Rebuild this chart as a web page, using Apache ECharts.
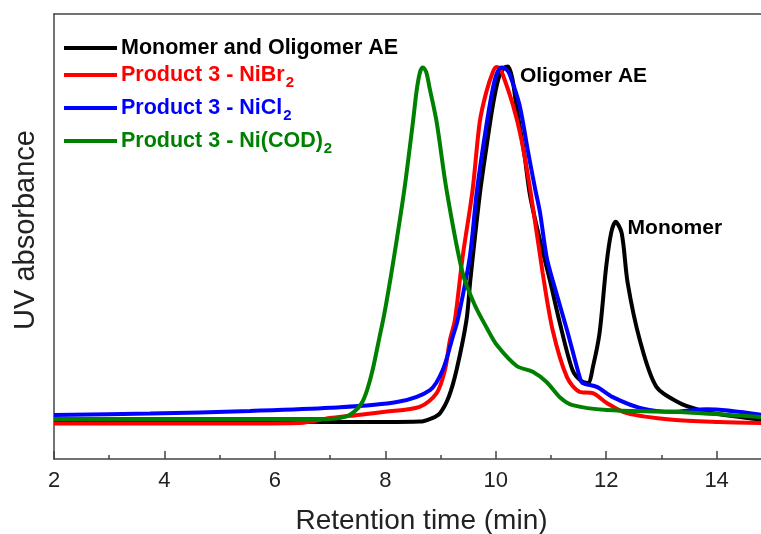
<!DOCTYPE html>
<html>
<head>
<meta charset="utf-8">
<script src="https://cdn.jsdelivr.net/npm/echarts@6/dist/echarts.min.js"></script>
<style>
html,body{margin:0;padding:0;background:#fff;}
#chart{width:761px;height:534px;}
</style>
</head>
<body>
<div id="chart"></div>
<script>
// ---------- data (retention time in min, UV absorbance in arbitrary units) ----------
const seriesNames = ['Monomer and Oligomer AE', 'Product 3 - NiBr2', 'Product 3 - NiCl2', 'Product 3 - Ni(COD)2'];
const legendMain = ['Monomer and Oligomer AE', 'Product 3 - NiBr', 'Product 3 - NiCl', 'Product 3 - Ni(COD)'];
const legendSub = ['', '2', '2', '2'];
const seriesColors = ['#000000', '#ff0000', '#0000ff', '#008000'];
const xTickLabels = [2, 4, 6, 8, 10, 12, 14];

const monomerOligomerAE = [[2,8.3],[4,8.3],[6,8.3],[8,8.3],[8.62,8.4],[8.85,9.2],[8.99,10.3],[9.15,14],[9.29,20.0],[9.47,31.2],[9.54,40.2],[9.71,59.3],[9.83,69.9],[9.95,79.6],[10.05,85.5],[10.14,87.8],[10.22,88.2],[10.3,85.5],[10.37,79.6],[10.52,68.3],[10.62,59.3],[10.8,49.2],[10.98,40.2],[11.16,30.6],[11.39,20.0],[11.55,17.5],[11.67,17.1],[11.76,20.7],[11.88,28.3],[12.0,43.2],[12.09,50.8],[12.17,53.3],[12.28,50.8],[12.39,39.5],[12.61,26.7],[12.91,16.2],[13.33,12.6],[13.69,11.0],[13.93,10.3],[14.84,8.8]];
const productNiBr2 = [[2,8.0],[4,8.0],[5.5,8.0],[6.45,8.1],[7.0,9.2],[7.36,9.7],[8.0,10.6],[8.62,11.7],[8.93,14.8],[9.08,20.0],[9.17,26.7],[9.26,31.2],[9.4,45.4],[9.58,60.4],[9.71,75.7],[9.83,82.5],[9.95,87.0],[10.01,88.1],[10.07,87.8],[10.13,86.3],[10.31,79.6],[10.46,72.1],[10.62,60.9],[10.85,41.8],[11.03,29.0],[11.29,18.4],[11.52,15.1],[11.76,14.8],[12.01,12.6],[12.37,10.3],[13.2,8.8],[14.05,8.3],[14.84,8.1]];
const productNiCl2 = [[2,9.9],[3.74,10.2],[5.55,10.8],[7.0,11.5],[8.21,12.8],[8.81,15.5],[9.04,20.0],[9.22,27.4],[9.31,31.2],[9.53,45.4],[9.66,60.4],[9.84,75.7],[9.96,84.0],[10.04,87.2],[10.11,88.0],[10.19,87.6],[10.25,86.5],[10.43,79.6],[10.58,69.4],[10.71,60.9],[10.8,55.5],[10.92,45.5],[11.03,40.2],[11.29,29.0],[11.52,18.4],[11.57,17.1],[11.83,16.2],[12.12,13.9],[12.61,11.5],[13.2,10.6],[13.82,11.2],[14.84,9.9]];
const productNiCOD2 = [[2,9.0],[5,9.0],[7.0,9.0],[7.3,9.6],[7.45,10.8],[7.57,12.5],[7.67,15.5],[7.77,20.0],[7.88,26.5],[7.98,32.5],[8.1,41.0],[8.21,49.5],[8.35,61.0],[8.5,75.7],[8.57,83.0],[8.63,87.0],[8.68,88.0],[8.74,87.0],[8.8,83.5],[8.93,75.7],[9.11,60.4],[9.4,41.8],[9.62,34.6],[9.84,29.4],[10.02,25.6],[10.38,20.9],[10.67,19.6],[10.92,17.3],[11.16,13.9],[11.39,12.1],[12.01,11.0],[13.2,10.6],[14.84,9.4]];
const seriesData = [monomerOligomerAE, productNiBr2, productNiCl2, productNiCOD2];

const peakNotes = [
  {name: 'Oligomer AE', coord: [10.22, 88.2]},
  {name: 'Monomer', coord: [12.17, 53.3]}
];

// ---------- chart ----------
const FONT = '"Liberation Sans", Arial, Helvetica, sans-serif';
const chart = echarts.init(document.getElementById('chart'), null, {renderer: 'canvas'});

const ctx = document.createElement('canvas').getContext('2d');
function textWidth(t, font) { ctx.font = font; return ctx.measureText(t).width; }

const legendRowsY = [48, 75, 108, 141];
const legendFont = 'bold 21.5px ' + FONT;
const legendGraphics = [];
legendMain.forEach((t, i) => {
  const y = legendRowsY[i];
  legendGraphics.push({type: 'rect', left: 64, top: y - 2, shape: {width: 53, height: 4}, style: {fill: seriesColors[i]}, silent: true});
  legendGraphics.push({type: 'text', x: 121, y: y, style: {text: t, fill: seriesColors[i], font: legendFont, textVerticalAlign: 'middle'}, silent: true});
  if (legendSub[i]) {
    const w = textWidth(t, legendFont);
    legendGraphics.push({type: 'text', x: 121 + w + 1, y: y + 8, style: {text: legendSub[i], fill: seriesColors[i], font: 'bold 15px ' + FONT, textVerticalAlign: 'middle'}, silent: true});
  }
});

const axisLineStyle = {color: '#444', width: 1.5};

const series = seriesData.map((d, i) => ({
  name: seriesNames[i],
  type: 'line',
  data: d,
  xAxisIndex: 0,
  yAxisIndex: 0,
  showSymbol: false,
  smooth: 0.3,
  lineStyle: {color: seriesColors[i], width: 4},
  itemStyle: {color: seriesColors[i]},
  z: 2 + i
}));
series[0].markPoint = {
  symbol: 'circle',
  symbolSize: 0,
  silent: true,
  label: {show: true, position: 'right', distance: 12, color: '#000', fontSize: 21, fontWeight: 'bold', fontFamily: FONT, formatter: p => p.name},
  data: peakNotes.map((n, k) => ({name: n.name, coord: n.coord, label: {offset: k === 0 ? [0, 10] : [0, 6]}}))
};

chart.setOption({
  animation: false,
  backgroundColor: '#fff',
  textStyle: {fontFamily: FONT},
  grid: {left: 54, right: -2, top: 14, bottom: 75, containLabel: false, outerBoundsMode: 'none'},
  xAxis: [
    {
      type: 'value', min: 2, max: 14.84, interval: 2, position: 'bottom',
      axisLine: {show: true, lineStyle: axisLineStyle},
      axisTick: {show: true, inside: true, length: 8, lineStyle: axisLineStyle},
      axisLabel: {show: true, fontSize: 22, color: '#222', margin: 11, fontFamily: FONT, showMaxLabel: false,
        formatter: v => (xTickLabels.indexOf(v) >= 0 ? String(v) : '')},
      splitLine: {show: false},
      name: 'Retention time (min)', nameLocation: 'middle', nameGap: 48,
      nameTextStyle: {fontSize: 28, color: '#222', fontFamily: FONT, padding: [0, 0, 0, 26]}
    },
    {
      type: 'value', min: 2, max: 14.84, interval: 1, position: 'bottom',
      axisLine: {show: false},
      axisTick: {show: true, inside: true, length: 4, lineStyle: axisLineStyle},
      axisLabel: {show: false}, splitLine: {show: false}
    },
    {
      type: 'value', min: 2, max: 14.84, position: 'top',
      axisLine: {show: true, lineStyle: axisLineStyle},
      axisTick: {show: false}, axisLabel: {show: false}, splitLine: {show: false}
    }
  ],
  yAxis: {
    type: 'value', min: 0, max: 100,
    axisLine: {show: true, lineStyle: axisLineStyle},
    axisTick: {show: false}, axisLabel: {show: false}, splitLine: {show: false},
    name: 'UV absorbance', nameLocation: 'middle', nameGap: 14,
    nameTextStyle: {fontSize: 29, color: '#222', fontFamily: FONT, padding: [0, 0, 0, 13]}
  },
  graphic: legendGraphics,
  series: series
});
</script>
</body>
</html>
